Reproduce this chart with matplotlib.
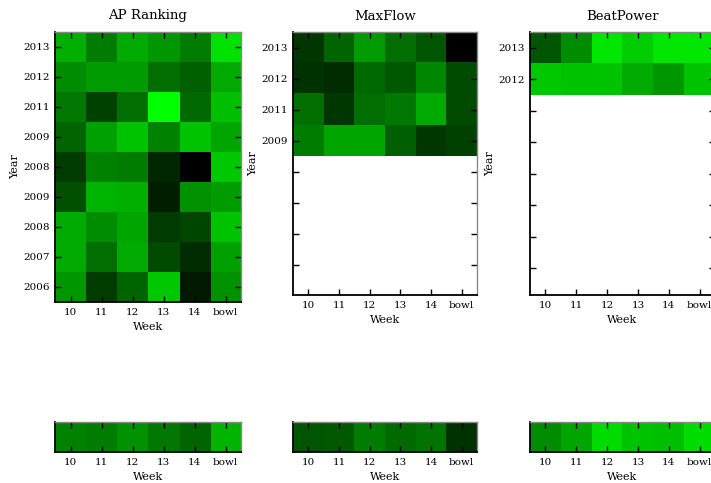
import numpy as np
import matplotlib
matplotlib.use("Agg")
import matplotlib.pyplot as plt
from matplotlib.colors import LinearSegmentedColormap

weeks = ["10", "11", "12", "13", "14", "bowl"]

ap_years = ["2013", "2012", "2011", "2009", "2008", "2009", "2008", "2007", "2006"]
ap_values = [
    [175, 125, 170, 150, 125, 225],
    [140, 155, 155, 110, 95, 170],
    [120, 65, 110, 255, 105, 190],
    [100, 160, 195, 130, 195, 165],
    [60, 130, 125, 40, 0, 200],
    [80, 180, 175, 30, 145, 155],
    [170, 140, 165, 60, 70, 195],
    [170, 110, 170, 75, 45, 160],
    [150, 60, 100, 200, 25, 145],
]

mf_years = ["2013", "2012", "2011", "2009"]
mf_values = [
    [55, 100, 155, 110, 85, 0],
    [50, 45, 105, 90, 135, 75],
    [110, 55, 110, 120, 170, 75],
    [125, 165, 165, 95, 55, 65],
]

bp_years = ["2013", "2012"]
bp_values = [
    [85, 140, 230, 205, 230, 230],
    [200, 195, 195, 170, 150, 195],
]

ap_summary = [130, 125, 145, 120, 100, 180]
mf_summary = [85, 90, 125, 105, 115, 50]
bp_summary = [140, 165, 220, 195, 190, 220]

titles = ["AP Ranking", "MaxFlow", "BeatPower"]

plt.rcParams['font.family'] = ['DejaVu Serif']
cmap = LinearSegmentedColormap.from_list("bg", [(0, 0, 0), (0, 1, 0)])

fig = plt.figure(figsize=(7.11, 4.83), dpi=100)
W, H = 711.0, 483.0

def px(l, t, r, b):
    return [l / W, (H - b) / H, (r - l) / W, (b - t) / H]

def style(ax):
    for s in ["top", "right"]:
        ax.spines[s].set_color("#888888")
        ax.spines[s].set_linewidth(1.0)
    for s in ["left", "bottom"]:
        ax.spines[s].set_color("black")
        ax.spines[s].set_linewidth(1.3)
    ax.tick_params(direction="in", top=True, right=True, length=4, width=1,
                   labelsize=7.5, pad=4)

tops = [
    (ap_values, ap_years, px(55, 32, 241, 302), 8.5),
    (mf_values, mf_years, px(293, 32, 477, 295), 7.98),
    (bp_values, bp_years, px(530, 32, 715, 295), 7.85),
]
for i, (vals, years, pos, ylow) in enumerate(tops):
    ax = fig.add_axes(pos)
    ax.imshow(np.array(vals), cmap=cmap, vmin=0, vmax=255, aspect="auto",
              interpolation="nearest")
    ax.set_xlim(-0.5, 5.5)
    ax.set_ylim(ylow, -0.5)
    nt = 9 if i == 0 else 8
    ax.set_yticks(range(nt))
    ax.set_yticklabels(years + [""] * (nt - len(years)))
    ax.set_xticks(range(6))
    ax.set_xticklabels(weeks)
    ax.set_xlabel("Week", fontsize=8)
    ax.set_ylabel("Year", fontsize=8, labelpad=2)
    ax.set_title(titles[i], fontsize=9.5, pad=9)
    style(ax)

bottoms = [
    (ap_summary, px(55, 422, 241, 452)),
    (mf_summary, px(293, 422, 477, 452)),
    (bp_summary, px(530, 422, 715, 452)),
]
for vals, pos in bottoms:
    ax = fig.add_axes(pos)
    ax.imshow(np.array([vals]), cmap=cmap, vmin=0, vmax=255, aspect="auto",
              interpolation="nearest")
    ax.set_xlim(-0.5, 5.5)
    ax.set_ylim(0.5, -0.5)
    ax.set_yticks([])
    ax.set_xticks(range(6))
    ax.set_xticklabels(weeks)
    ax.set_xlabel("Week", fontsize=8)
    style(ax)
    ax.tick_params(left=False, right=False)

fig.savefig("out.png", dpi=100)
